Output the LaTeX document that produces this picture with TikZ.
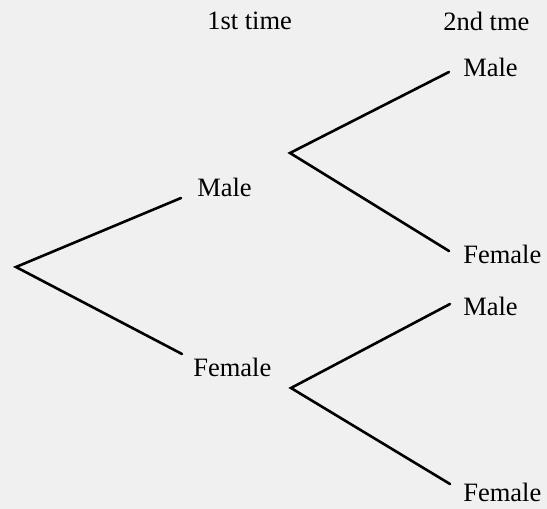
\documentclass[tikz,border=0pt]{standalone}
\usepackage{fontspec}
\setmainfont{Liberation Serif}
\usetikzlibrary{positioning}

\begin{document}
\begin{tikzpicture}[x=1pt,y=-1pt,line width=2.6pt,line cap=round,
  lbl/.style={anchor=west,inner sep=0pt,font=\fontsize{26.5}{30}\selectfont}]

\useasboundingbox[fill=black!6] (0,0) rectangle (547,509);

% branch points and ends of the branches
\coordinate (R)  at (16,267);
\coordinate (A)  at (290,153);
\coordinate (B)  at (291,388);
\coordinate (Ae) at (181,198);
\coordinate (Be) at (182,354);
\coordinate (AM) at (449,72);
\coordinate (AF) at (449,251);
\coordinate (BM) at (450,304);
\coordinate (BF) at (450,484);

\begin{scope}[every node/.style={lbl}]
  \node (T1) at (206,21) {1st time};
  \node (T2) at (442,21) {2nd tme};
  \node (M)  at (196,187) {Male};
  \node (F)  at (192,367) {Female};
  \node (MM) at (462,67)  {Male};
  \node (MF) at (462,254) {Female};
  \node (FM) at (462,306) {Male};
  \node (FF) at (462,492) {Female};
\end{scope}

\draw (Ae) -- (R) -- (Be);
\draw (AM) -- (A) -- (AF);
\draw (BM) -- (B) -- (BF);

\end{tikzpicture}
\end{document}
